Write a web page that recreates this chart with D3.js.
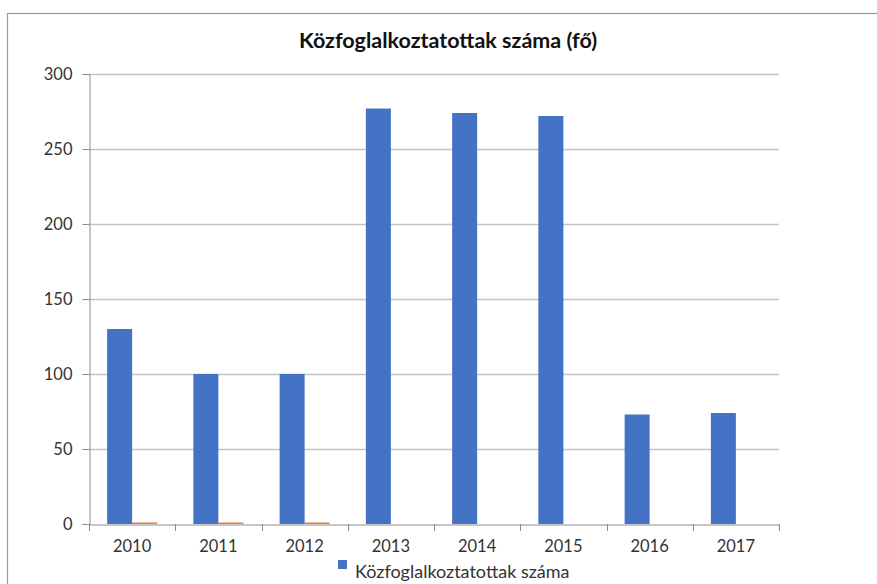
<!DOCTYPE html>
<html><head><meta charset="utf-8">
<script src="https://cdn.jsdelivr.net/npm/d3@7"></script>
<style>body{margin:0;background:#fff;} svg{display:block;}</style>
</head><body>
<svg id="c" width="877" height="584"></svg>
<script>
const categories = ["2010","2011","2012","2013","2014","2015","2016","2017"];
const seriesMain = [130, 100, 100, 277, 274, 272, 73, 74];
const seriesSecond = [1, 1, 1, 0, 0, 0, 0, 0];
const yTicks = [0, 50, 100, 150, 200, 250, 300];
const titleText = "Közfoglalkoztatottak száma (fő)";
const legendLabel = "Közfoglalkoztatottak száma";

(function(){
const svg = d3.select("#c");
const font = "Lato, 'Open Sans', sans-serif";
const pL = 89, pR = 779, pT = 74, pB = 524;

svg.append("rect").attr("x",7.5).attr("y",13.5).attr("width",900).attr("height",600)
  .attr("fill","#fff").attr("stroke","#9a9a9a").attr("stroke-width",1.2);

const x = d3.scaleBand().domain(categories).range([pL, pR]).paddingInner(0).paddingOuter(0);
const y = d3.scaleLinear().domain([0, 300]).range([pB, pT]);

// gridlines
svg.append("g").selectAll("line").data(yTicks.filter(d=>d>0)).join("line")
  .attr("x1", pL).attr("x2", pR)
  .attr("y1", d=>Math.round(y(d))+0.5).attr("y2", d=>Math.round(y(d))+0.5)
  .attr("stroke","#c4c4c4").attr("stroke-width",1.3);

// y axis
const ya = svg.append("g").attr("transform",`translate(${pL+0.5},0)`)
  .call(d3.axisLeft(y).tickValues(yTicks).tickSize(7).tickPadding(10));
ya.select(".domain").attr("stroke","#8c8c8c");
ya.selectAll(".tick line").attr("stroke","#8c8c8c");
ya.selectAll(".tick text").attr("font-family",font).attr("font-size",16.5).attr("fill","#333");

// bars
const bw = 25;
const off = (x.bandwidth() - 2*bw)/2;
svg.append("g").selectAll("rect").data(seriesMain).join("rect")
  .attr("x",(d,i)=>x(categories[i])+off)
  .attr("y",d=>y(d)).attr("width",bw).attr("height",d=>y(0)-y(d))
  .attr("fill","#4472C4");
svg.append("g").selectAll("rect").data(seriesSecond).join("rect")
  .attr("x",(d,i)=>x(categories[i])+off+bw)
  .attr("y",d=>y(d)).attr("width",bw).attr("height",d=>y(0)-y(d))
  .attr("fill","#ED7D31");

// x axis
const xa = svg.append("g").attr("transform",`translate(0,${pB+0.5})`)
  .call(d3.axisBottom(x).tickSize(0).tickPadding(16));
xa.select(".domain").attr("stroke","#8c8c8c");
xa.selectAll(".tick text").attr("font-family",font).attr("font-size",16.5).attr("fill","#333");
const bounds = categories.map(c=>x(c)).concat([pR]);
svg.append("g").selectAll("line").data(bounds).join("line")
  .attr("x1",d=>Math.round(d)+0.5).attr("x2",d=>Math.round(d)+0.5)
  .attr("y1",pB).attr("y2",pB+7).attr("stroke","#8c8c8c");

// title
svg.append("text").attr("x",448).attr("y",48).attr("text-anchor","middle")
  .attr("font-family",font).attr("font-weight","bold").attr("font-size",21.5)
  .attr("fill","#111").text(titleText);

// legend
svg.append("rect").attr("x",338).attr("y",560).attr("width",9).attr("height",9).attr("fill","#4472C4");
svg.append("text").attr("x",355).attr("y",577.5).attr("font-family",font).attr("font-size",18)
  .attr("fill","#333").text(legendLabel);
})();
</script>
</body></html>
